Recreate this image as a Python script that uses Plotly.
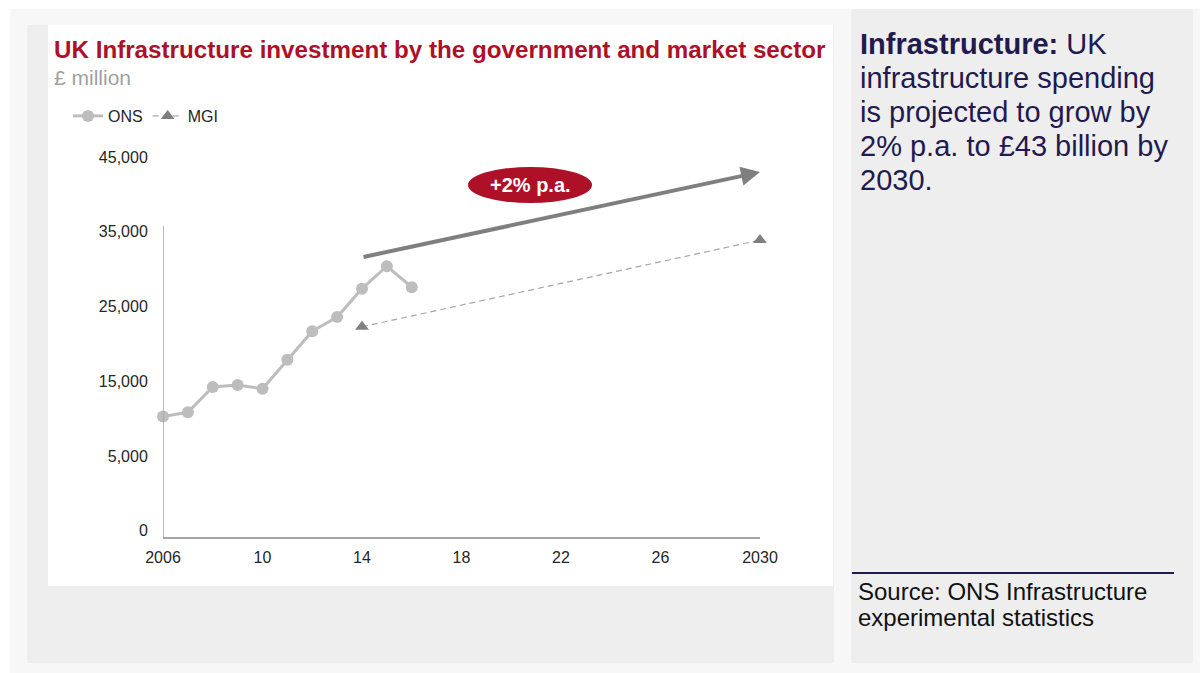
import plotly.graph_objects as go

# ---- data -------------------------------------------------------------
ons_years = [2006, 2007, 2008, 2009, 2010, 2011, 2012, 2013, 2014, 2015, 2016]
ons_values = [10300, 10850, 14250, 14500, 14000, 17900, 21700, 23600, 27400, 30400, 27600]

mgi_years = [2014, 2030]
mgi_values = [22300, 33900]

trend_years = [2014, 2030]
trend_values = [31600, 43000]
trend_label = "+2% p.a."

x_tick_vals = [2006, 2010, 2014, 2018, 2022, 2026, 2030]
x_tick_text = ["2006", "10", "14", "18", "22", "26", "2030"]
y_tick_vals = [-5000, 5000, 15000, 25000, 35000, 45000]
y_tick_text = ["0", "5,000", "15,000", "25,000", "35,000", "45,000"]

title_text = "UK Infrastructure investment by the government and market sector"
subtitle_text = "£ million"
side_lines = [
    "<b>Infrastructure:</b> UK",
    "infrastructure spending",
    "is projected to grow by",
    "2% p.a. to £43 billion by",
    "2030.",
]
source_lines = ["Source: ONS Infrastructure", "experimental statistics"]

# ---- layout geometry (pixels) -----------------------------------------
W, H = 1200, 673
PL, PR, PT, PB = 163, 760, 150, 537
Y_RANGE = [-5840, 45960]
X_RANGE = [2006, 2030]
FONT = "Liberation Sans, Arial, sans-serif"
NAVY = "#1f1a4f"
RED = "#ae1028"


def px(x):
    return (x - PL) / (PR - PL)


def py(y):
    return (PB - y) / (PB - PT)


def rect(x0, y0, x1, y1, color):
    return dict(type="rect", xref="paper", yref="paper",
                x0=px(x0), x1=px(x1), y0=py(y1), y1=py(y0),
                fillcolor=color, line=dict(width=0), layer="below")


fig = go.Figure()

fig.add_trace(go.Scatter(
    x=ons_years, y=ons_values, name="ONS", mode="lines+markers",
    line=dict(color="#bdbdbd", width=3),
    marker=dict(symbol="circle", size=12, color="#bdbdbd"),
    cliponaxis=False,
))
fig.add_trace(go.Scatter(
    x=mgi_years, y=mgi_values, name="MGI", mode="lines+markers",
    line=dict(color="#a6a6a6", width=1.2, dash="6px,4px"),
    marker=dict(symbol="triangle-up", size=12, color="#7f7f7f"),
    cliponaxis=False,
))

shapes = [
    rect(10, 9, W, H, "#f7f7f7"),
    rect(27, 25, 834, 663, "#eeeeee"),
    rect(48, 25, 833, 586, "#ffffff"),
    rect(851, 9, 1193, 663, "#eeeeee"),
    # source rule in the side panel
    dict(type="line", xref="paper", yref="paper",
         x0=px(852), x1=px(1174), y0=py(573), y1=py(573),
         line=dict(color=NAVY, width=2)),
    # vertical axis line
    dict(type="line", xref="x", yref="y",
         x0=X_RANGE[0], x1=X_RANGE[0], y0=Y_RANGE[0], y1=35800,
         line=dict(color="#a6a6a6", width=1.5)),
    # growth badge
    dict(type="circle", xref="paper", yref="paper",
         x0=px(468), x1=px(592), y0=py(203), y1=py(167),
         fillcolor=RED, line=dict(width=0), layer="below"),
]

annotations = [
    # growth trend arrow
    dict(x=trend_years[1], y=trend_values[1], ax=trend_years[0], ay=trend_values[0],
         xref="x", yref="y", axref="x", ayref="y", text="",
         showarrow=True, arrowhead=2, arrowsize=0.95, arrowwidth=4,
         arrowcolor="#7f7f7f", standoff=0),
    dict(x=px(530), y=py(185), xref="paper", yref="paper",
         xanchor="center", yanchor="middle", text=f"<b>{trend_label}</b>",
         showarrow=False, font=dict(family=FONT, size=20, color="white")),
    dict(x=px(52), y=py(50), xref="paper", yref="paper", xanchor="left", yanchor="middle",
         text=f"<b>{title_text}</b>", showarrow=False,
         font=dict(family=FONT, size=24.2, color=RED)),
    dict(x=px(52), y=py(77), xref="paper", yref="paper", xanchor="left", yanchor="middle",
         text=subtitle_text, showarrow=False,
         font=dict(family=FONT, size=21, color="#a0a0a0")),
]

side_y = [44, 78, 112, 146, 180]
for line, yy in zip(side_lines, side_y):
    annotations.append(dict(
        x=px(858), y=py(yy), xref="paper", yref="paper", xanchor="left", yanchor="middle",
        text=line, showarrow=False, font=dict(family=FONT, size=29, color=NAVY)))

source_y = [591, 617]
for line, yy in zip(source_lines, source_y):
    annotations.append(dict(
        x=px(856), y=py(yy), xref="paper", yref="paper", xanchor="left", yanchor="middle",
        text=line, showarrow=False, font=dict(family=FONT, size=24, color="#111111")))

fig.update_layout(
    width=W, height=H,
    margin=dict(l=PL, r=W - PR, t=PT, b=H - PB, pad=0),
    paper_bgcolor="white", plot_bgcolor="rgba(0,0,0,0)",
    font=dict(family=FONT, color="#262626"),
    shapes=shapes, annotations=annotations,
    showlegend=True,
    legend=dict(orientation="h", x=px(68), y=py(99), xanchor="left", yanchor="top",
                bgcolor="rgba(0,0,0,0)", font=dict(family=FONT, size=16, color="#262626"),
                itemwidth=30, tracegroupgap=0),
    xaxis=dict(range=X_RANGE, tickvals=x_tick_vals, ticktext=x_tick_text,
               showgrid=False, zeroline=False, showline=True, linecolor="#a6a6a6",
               linewidth=1.5, ticks="outside", ticklen=5, tickcolor="rgba(0,0,0,0)",
               tickfont=dict(family=FONT, size=16, color="#262626")),
    yaxis=dict(range=Y_RANGE, tickvals=y_tick_vals, ticktext=y_tick_text,
               showgrid=False, zeroline=False, showline=False,
               ticks="outside", ticklen=11, tickcolor="rgba(0,0,0,0)",
               tickfont=dict(family=FONT, size=16, color="#262626")),
)

fig.write_html("out.html")
